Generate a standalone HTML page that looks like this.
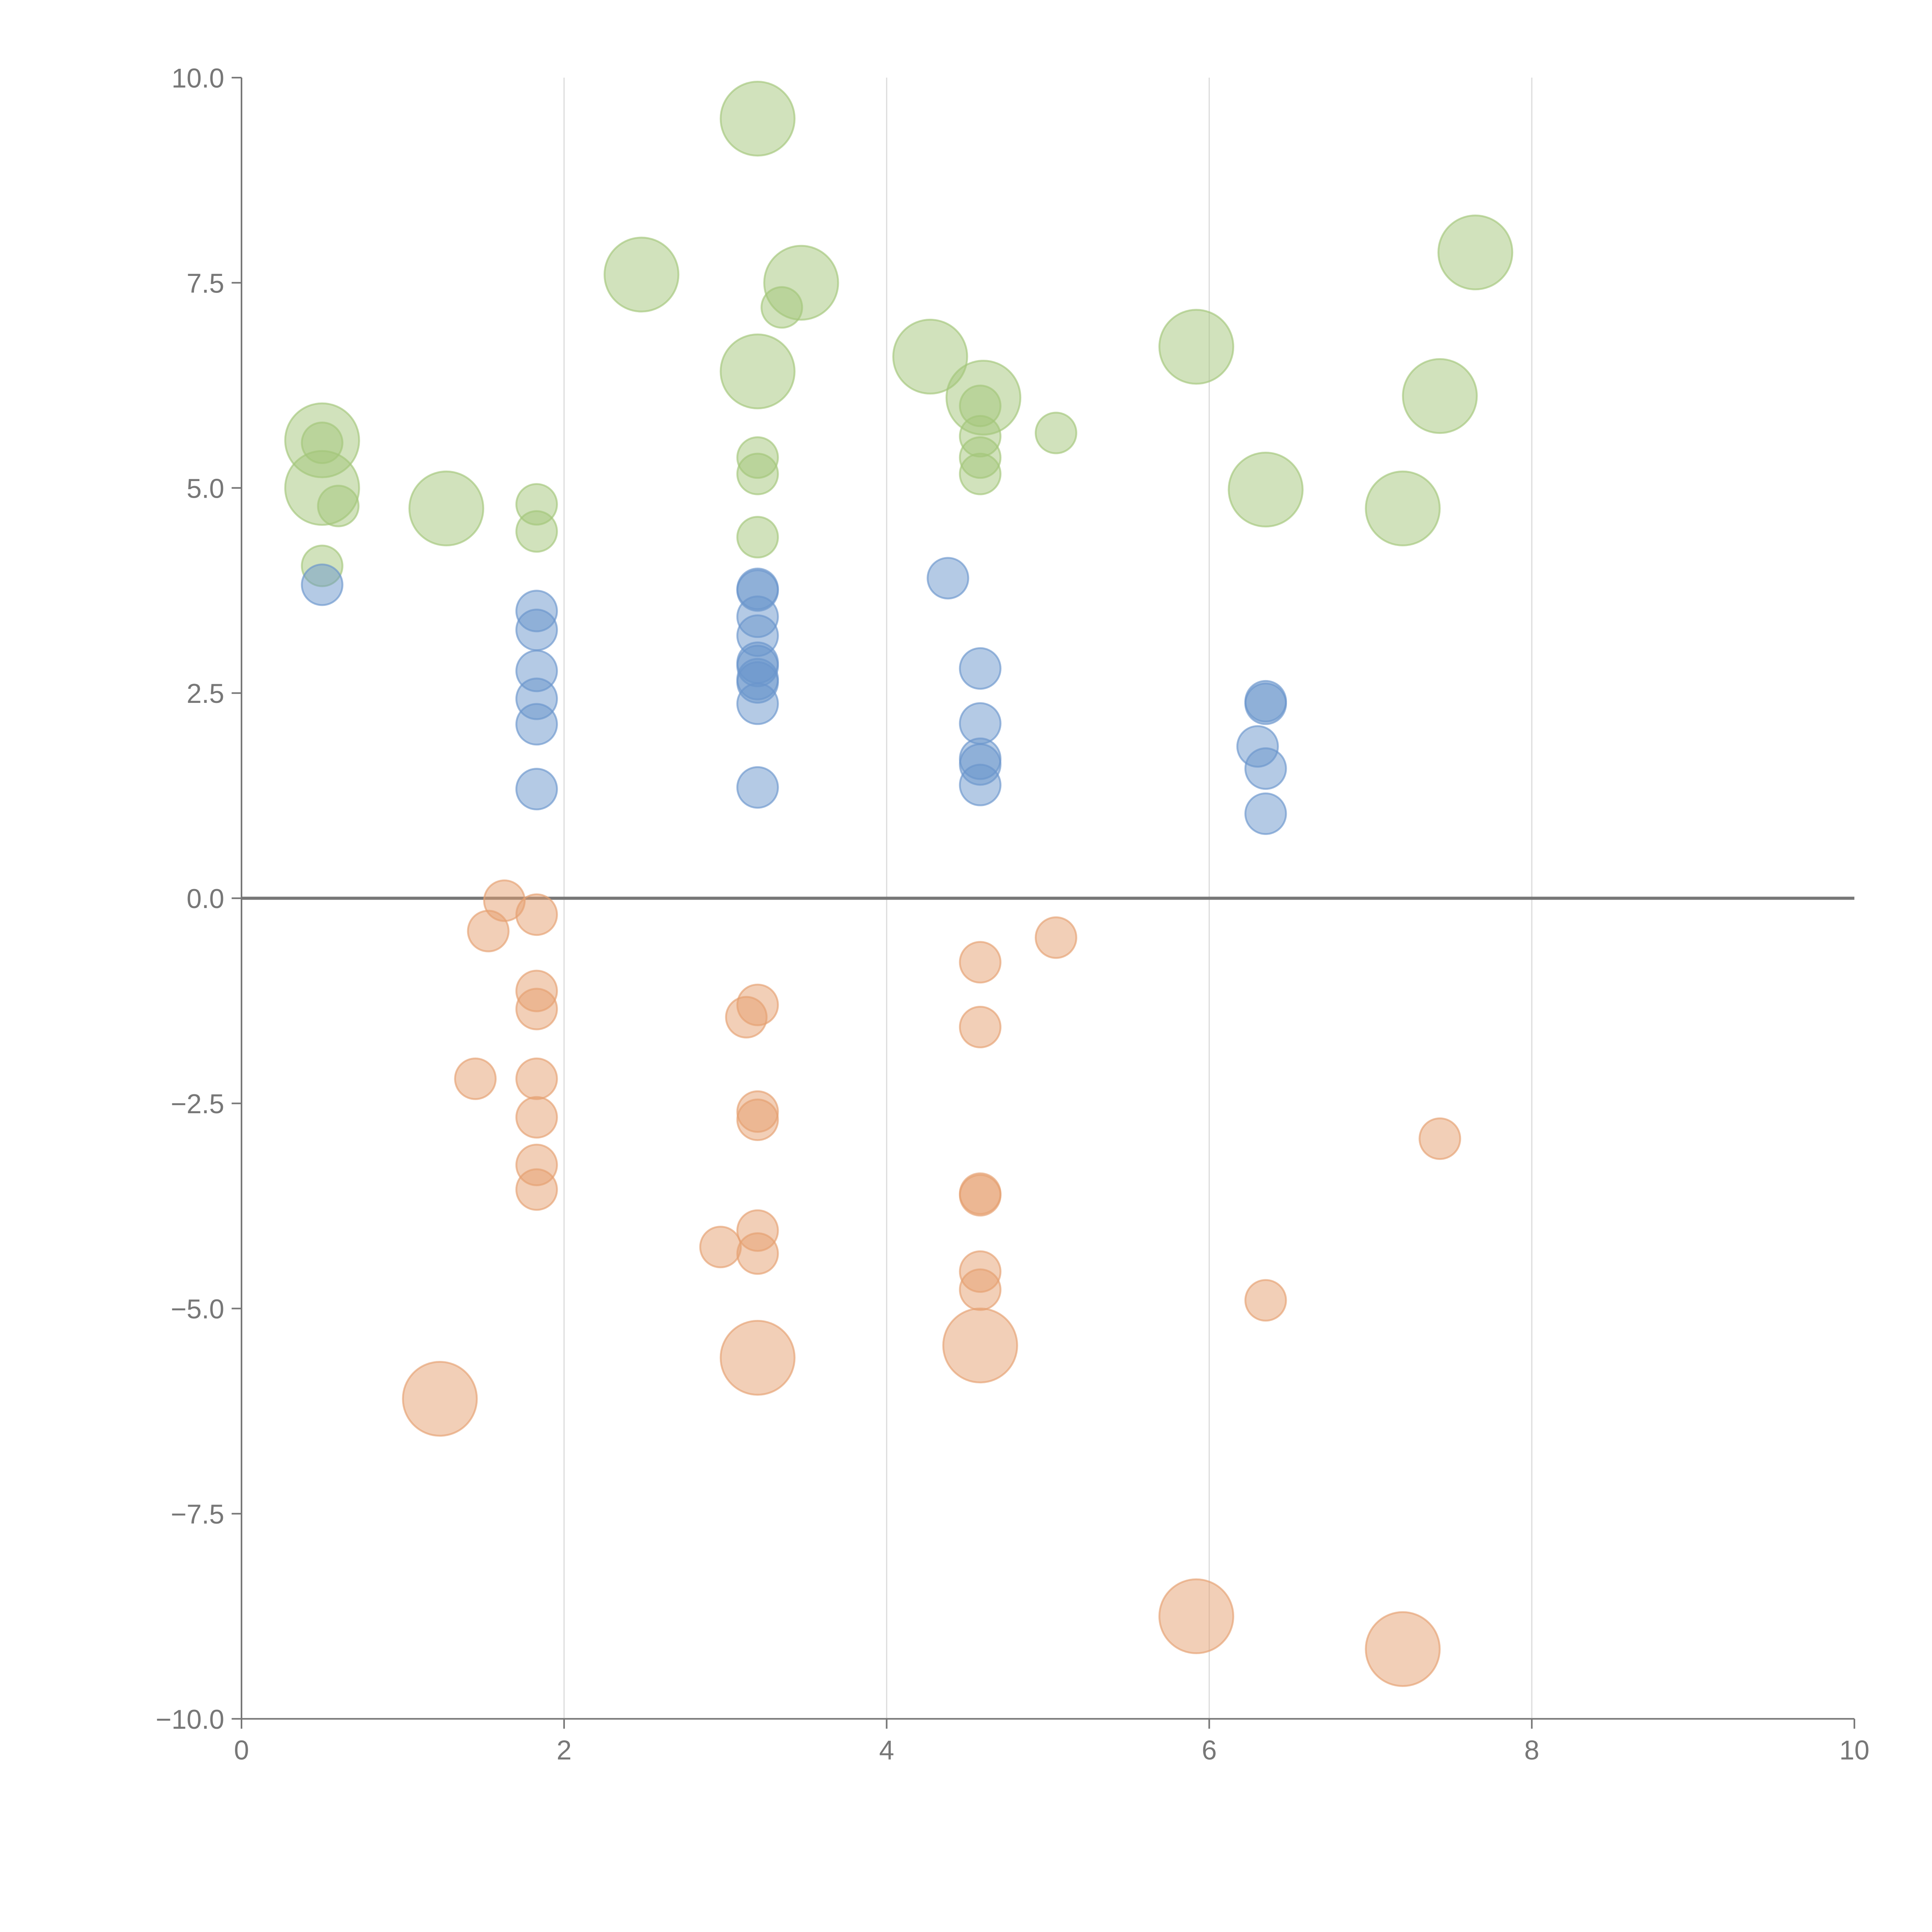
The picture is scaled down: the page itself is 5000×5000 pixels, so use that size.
<!DOCTYPE html>
<html><head><meta charset="utf-8"><style>
html,body{margin:0;padding:0;background:#fff;}
svg{display:block;font-family:"Liberation Sans",Arial,sans-serif;}
</style></head><body>
<svg id="chart" width="5000" height="5000" viewBox="0 0 1568 1568" xmlns="http://www.w3.org/2000/svg">
<g id="grid"></g>
<g id="axes"></g>
<g id="marks"></g>
</svg>
<script>
const xTicks = [0,2,4,6,8,10];
const yTicks = [10,7.5,5,2.5,0,-2.5,-5,-7.5,-10];
const yTickLabels = ["10.0","7.5","5.0","2.5","0.0","\u22122.5","\u22125.0","\u22127.5","\u221210.0"];
const greenX = [0.5,0.5,1.27,2.48,3.2,3.47,3.2,4.27,4.6,5.92,6.35,7.2,7.43,7.65, 0.5,0.6,0.5,1.83,1.83,3.35,3.2,3.2,3.2,4.58,4.58,4.58,4.58,5.05];
const greenY = [5.58,5.0,4.75,7.6,9.5,7.5,6.42,6.6,6.1,6.72,4.98,4.75,6.12,7.87, 5.55,4.78,4.05,4.8,4.47,7.2,5.37,5.17,4.4,6.0,5.63,5.37,5.17,5.67];
const greenS = [1,1,1,1,1,1,1,1,1,1,1,1,1,1, 0,0,0,0,0,0,0,0,0,0,0,0,0,0];
const blueX = [0.5,1.83,1.83,1.83,1.83,1.83,1.83,3.2,3.2,3.2,3.2,3.2,3.2,3.2,3.2,3.2,3.2,4.38,4.58,4.58,4.58,4.58,4.58,6.35,6.35,6.3,6.35,6.35];
const blueY = [3.82,3.5,3.27,2.77,2.43,2.12,1.33,3.77,3.75,3.43,3.2,2.87,2.83,2.67,2.63,2.37,1.35,3.9,2.8,2.13,1.7,1.63,1.38,2.4,2.37,1.85,1.58,1.03];
const orangeX = [1.63,1.53,1.83,1.83,1.83,1.45,1.83,1.83,1.83,1.83,3.2,3.13,3.2,3.2,3.2,3.2,2.97,4.58,4.58,4.58,4.58,4.58,4.58,5.05,6.35,7.43, 1.23,3.2,4.58,5.92,7.2];
const orangeY = [-0.03,-0.4,-0.2,-1.13,-1.35,-2.2,-2.2,-2.67,-3.25,-3.55,-1.3,-1.45,-2.6,-2.7,-4.05,-4.33,-4.25,-0.78,-1.57,-3.6,-3.62,-4.55,-4.77,-0.48,-4.9,-2.93, -6.1,-5.6,-5.45,-8.75,-9.15];
const orangeS = [0,0,0,0,0,0,0,0,0,0,0,0,0,0,0,0,0,0,0,0,0,0,0,0,0,0, 1,1,1,1,1];

const NS="http://www.w3.org/2000/svg";
const X0=196,X1=1505,Y0=63,Y1=1395;
function sx(v){return X0+(v-0)/(10-0)*(X1-X0);}
function sy(v){return Y0+(10-v)/20*(Y1-Y0);}
function mk(tag,attrs,parent){const e=document.createElementNS(NS,tag);for(const k in attrs)e.setAttribute(k,attrs[k]);parent.appendChild(e);return e;}
const grid=document.getElementById('grid'),axes=document.getElementById('axes'),marks=document.getElementById('marks');
xTicks.forEach(t=>{
  if(t>0&&t<10){const g=mk('line',{x1:sx(t),x2:sx(t),y1:Y0,y2:Y1,stroke:'#dddddd','stroke-width':1},grid);
  
  }
  const tk=mk('line',{x1:sx(t),x2:sx(t),y1:Y1,y2:Y1+8,stroke:'#777','stroke-width':1.3},axes);
  
  
  const lb=mk('text',{x:sx(t),y:Y1+33,'text-anchor':'middle','font-size':22,fill:'#777'},axes);
  lb.textContent=String(t);
  
  
});
yTicks.forEach((t,i)=>{
  const tk=mk('line',{x1:X0-8,x2:X0,y1:sy(t),y2:sy(t),stroke:'#777','stroke-width':1.3},axes);
  
  
  const lb=mk('text',{x:X0-14,y:sy(t)+8,'text-anchor':'end','font-size':22,fill:'#777'},axes);
  lb.textContent=yTickLabels[i];
  
  
});
const ya=mk('line',{x1:X0,x2:X0,y1:Y0,y2:Y1,stroke:'#777','stroke-width':1.3},axes);


const xa=mk('line',{x1:X0,x2:X1,y1:Y1,y2:Y1,stroke:'#777','stroke-width':1.3},axes);


const zl=mk('line',{x1:X0,x2:X1,y1:sy(0),y2:sy(0),stroke:'#777','stroke-width':2.5},axes);


function draw(xs,ys,ss,color,name){
  xs.forEach((x,i)=>{
    const r=ss&&ss[i]?30:16.5;
    const c=mk('circle',{cx:sx(x),cy:sy(ys[i]),r:r,fill:color,'fill-opacity':0.5,stroke:color,'stroke-opacity':0.65,'stroke-width':1.5},marks);
    
    
  });
}
draw(greenX,greenY,greenS,'#a3c67a','green-bubble');
draw(blueX,blueY,null,'#6a95cc','blue-bubble');
draw(orangeX,orangeY,orangeS,'#e5a070','orange-bubble');
</script>
</body></html>
